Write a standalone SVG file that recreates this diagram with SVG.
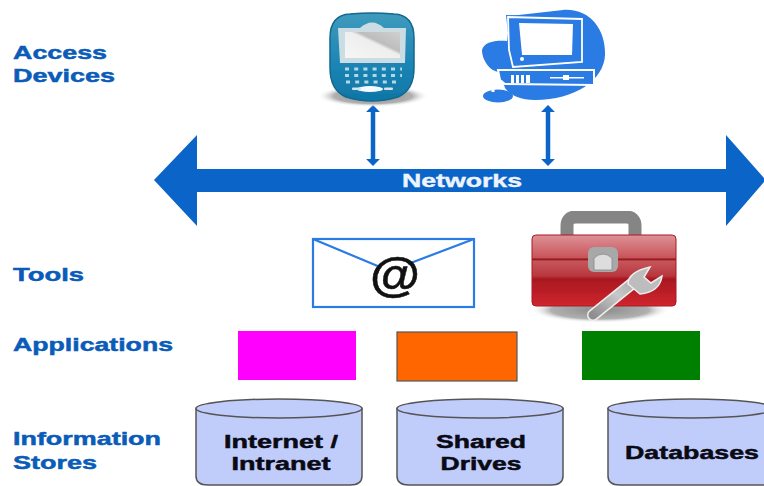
<svg xmlns="http://www.w3.org/2000/svg" width="764" height="486" viewBox="0 0 764 486">
<defs>
<style>
.lbl{font-family:"Liberation Sans",Arial,sans-serif;font-weight:700;font-size:19px;fill:#0b5cb8;stroke:#0b5cb8;stroke-width:.5}
.blk{font-family:"Liberation Sans",Arial,sans-serif;font-weight:700;font-size:19px;fill:#0a0a14;stroke:#0a0a14;stroke-width:.5;text-anchor:middle}
.cyl{fill:#c0cdfb;stroke:#555;stroke-width:1.5}
.con{stroke:#0b64c8;stroke-width:4.5;fill:none;marker-start:url(#h);marker-end:url(#h)}
.icon{filter:url(#soft)}
.key{fill:none;stroke:#cfe6ee;stroke-width:3;stroke-dasharray:4 5.200;opacity:.85}
</style>
<filter id="soft" x="-5%" y="-5%" width="110%" height="110%"><feGaussianBlur stdDeviation=".55"/></filter>
<marker id="h" viewBox="0 0 10 10" refX="3" refY="5" markerUnits="userSpaceOnUse" markerWidth="7" markerHeight="14" preserveAspectRatio="none" orient="auto-start-reverse"><path d="M0 0L10 5L0 10Z" fill="#0b64c8"/></marker>
<linearGradient id="phone" x1="0" y1="0" x2="0" y2="1"><stop offset="0" stop-color="#3f9bbd"/><stop offset=".6" stop-color="#1b84b4"/><stop offset="1" stop-color="#0f76a6"/></linearGradient>
<linearGradient id="scr" x1="0" y1="1" x2="1" y2="0"><stop offset="0" stop-color="#f6f6f6"/><stop offset=".55" stop-color="#eee"/><stop offset=".62" stop-color="#bdbdbd"/><stop offset="1" stop-color="#d0d0d0"/></linearGradient>
<linearGradient id="box" x1="0" y1="0" x2="0" y2="1"><stop offset="0" stop-color="#dd9298"/><stop offset=".32" stop-color="#c9545a"/><stop offset=".34" stop-color="#8e1218"/><stop offset=".37" stop-color="#c6565c"/><stop offset=".58" stop-color="#b8363c"/><stop offset=".62" stop-color="#a81820"/><stop offset="1" stop-color="#cf262e"/></linearGradient>
<linearGradient id="wr" x1="0" y1="1" x2="1" y2="0"><stop offset="0" stop-color="#8e8e8e"/><stop offset=".6" stop-color="#c8c8c8"/><stop offset="1" stop-color="#aaa"/></linearGradient>
<radialGradient id="shd"><stop offset="0" stop-color="#8a8a8a"/><stop offset=".7" stop-color="#b0b0b0"/><stop offset="1" stop-color="#fff" stop-opacity="0"/></radialGradient>
</defs>
<rect width="764" height="486" fill="#fff"/>
<g id="labels">
<text class="lbl" x="13" y="59" textLength="94" lengthAdjust="spacingAndGlyphs">Access</text>
<text class="lbl" x="13" y="82" textLength="102" lengthAdjust="spacingAndGlyphs">Devices</text>
<text class="lbl" x="13" y="281" textLength="71" lengthAdjust="spacingAndGlyphs">Tools</text>
<text class="lbl" x="13" y="351" textLength="160" lengthAdjust="spacingAndGlyphs">Applications</text>
<text class="lbl" x="13" y="445" textLength="148" lengthAdjust="spacingAndGlyphs">Information</text>
<text class="lbl" x="13" y="469" textLength="84" lengthAdjust="spacingAndGlyphs">Stores</text>
</g>
<g id="connectors">
<line class="con" x1="373" y1="110" x2="373" y2="161"/>
<line class="con" x1="548" y1="110" x2="548" y2="161"/>
</g>
<g id="networks">
<path d="M154 180L197 135V169H726V135L764 178V182L726 226V192H197V226Z" fill="#0b64c8"/>
<text x="462" y="187" font-family="Liberation Sans,Arial,sans-serif" font-weight="700" font-size="19" fill="#eef4ff" stroke="#eef4ff" stroke-width=".4" text-anchor="middle" textLength="120" lengthAdjust="spacingAndGlyphs">Networks</text>
</g>
<g id="phone-device" class="icon">
<ellipse cx="373" cy="96" rx="56" ry="11" fill="url(#shd)"/>
<path d="M350 14Q372 12 394 14Q414 15 414 38V68Q414 90 398 97Q372 105 346 97Q330 90 330 68V38Q330 15 350 14Z" fill="url(#phone)" stroke="#12688f" stroke-width="1.500"/>
<path d="M338 28H360Q372 17 384 28H406L405 63H340Z" fill="#cbdde2"/>
<rect x="345" y="32" width="55" height="26" fill="url(#scr)"/>
<path class="key" d="M345 69H402M345 75.500H402M346 82H400"/>
<ellipse cx="370" cy="89" rx="13" ry="3" fill="#f4fbff"/>
<rect x="352" y="87.500" width="9" height="2.500" rx="1" fill="#cfe6ee"/>
<rect x="384" y="87.500" width="9" height="2.500" rx="1" fill="#cfe6ee"/>
</g>
<g id="computer-device" class="icon">
<path d="M563 10C590 8 606 30 605 55C604 80 575 100 535 100C520 100 510 95 505 88L500 72C490 72 482 60 482 50C484 42 495 40 507 41L510 16Z" fill="#2a7be4"/>
<ellipse cx="498" cy="96" rx="15" ry="6.500" fill="#2a7be4"/>
<path d="M506 15L584 17V65L512 71Z" fill="#2a7be4"/>
<path d="M508 17L582 19V62L513 67L509 50Z" fill="#2a7be4" stroke="#fff" stroke-width="1.800"/>
<path d="M519 23L573 24L572 55L522 55Z" fill="#fff"/>
<circle cx="522" cy="59" r="2" fill="#fff"/>
<path d="M498 70H594V85L505 84L500 80Z" fill="#2a7be4" stroke="#fff" stroke-width="2"/>
<path d="M511 75h3v8h-3zM516 75h3v8h-3zM521 75h3v8h-3zM526 75h4v8h-4zM550 77h34v1.500h-34z" fill="#fff"/>
<rect x="563" y="75" width="6" height="5" fill="#fff"/>
<path d="M503 82L493 86V92" fill="none" stroke="#fff" stroke-width="3"/>
</g>
<g id="email-tool">
<rect x="313" y="239" width="161" height="68" fill="#fff" stroke="#2a7be4" stroke-width="2.200"/>
<path d="M313 239L380 267M474 239L408 264" fill="none" stroke="#2a7be4" stroke-width="2.200"/>
<text x="395" y="291" font-family="Liberation Sans,Arial,sans-serif" font-weight="700" font-size="46" fill="#111" text-anchor="middle" stroke="#111" stroke-width=".5" textLength="50" lengthAdjust="spacingAndGlyphs">@</text>
</g>
<g id="toolbox-tool" class="icon">
<ellipse cx="600" cy="310" rx="70" ry="13" fill="url(#shd)"/>
<path d="M567 238V226Q567 217 576 217H626Q635 217 635 226V238" fill="none" stroke="#858585" stroke-width="13"/>
<rect x="532" y="235" width="144" height="71" rx="4" fill="url(#box)" stroke="#a81a22"/>
<rect x="588" y="247" width="30" height="25" rx="6" fill="#a8a8a8"/>
<path d="M594 270V258Q603 250 612 258V270Z" fill="#ddd" stroke="#888" stroke-width=".8"/>
<path d="M593 315L634 282" stroke="#eee" stroke-width="12" stroke-linecap="round"/>
<path d="M593 315L634 282" stroke="url(#wr)" stroke-width="9" stroke-linecap="round"/>
<path d="M628 284Q628 272 650 267L644 277L651 283L662 276Q660 292 640 294Z" fill="#bdbdbd" stroke="#eee" stroke-width="1.500"/>
</g>
<g id="app-magenta"><rect x="238" y="331" width="118" height="49" fill="#f0f"/></g>
<g id="app-orange"><rect x="397" y="332" width="120" height="49" fill="#f60" stroke="#555" stroke-width="1.200"/></g>
<g id="app-green"><rect x="582" y="331" width="118" height="49" fill="#008000"/></g>
<g id="store-internet">
<path class="cyl" d="M196 408.500V476Q196 485 208 485H350Q362 485 362 476V408.500Z"/>
<ellipse class="cyl" cx="279" cy="408.500" rx="83" ry="9.500"/>
<text class="blk" x="281" y="448" textLength="114" lengthAdjust="spacingAndGlyphs">Internet /</text>
<text class="blk" x="281" y="470" textLength="99" lengthAdjust="spacingAndGlyphs">Intranet</text>
</g>
<g id="store-shared">
<path class="cyl" d="M397 408.500V476Q397 485 409 485H551Q563 485 563 476V408.500Z"/>
<ellipse class="cyl" cx="480" cy="408.500" rx="83" ry="9.500"/>
<text class="blk" x="481" y="448" textLength="90" lengthAdjust="spacingAndGlyphs">Shared</text>
<text class="blk" x="481" y="470" textLength="81" lengthAdjust="spacingAndGlyphs">Drives</text>
</g>
<g id="store-databases">
<path class="cyl" d="M608 408.500V476Q608 485 620 485H762Q774 485 774 476V408.500Z"/>
<ellipse class="cyl" cx="691" cy="408.500" rx="83" ry="9.500"/>
<text class="blk" x="692" y="459" textLength="134" lengthAdjust="spacingAndGlyphs">Databases</text>
</g>
</svg>
